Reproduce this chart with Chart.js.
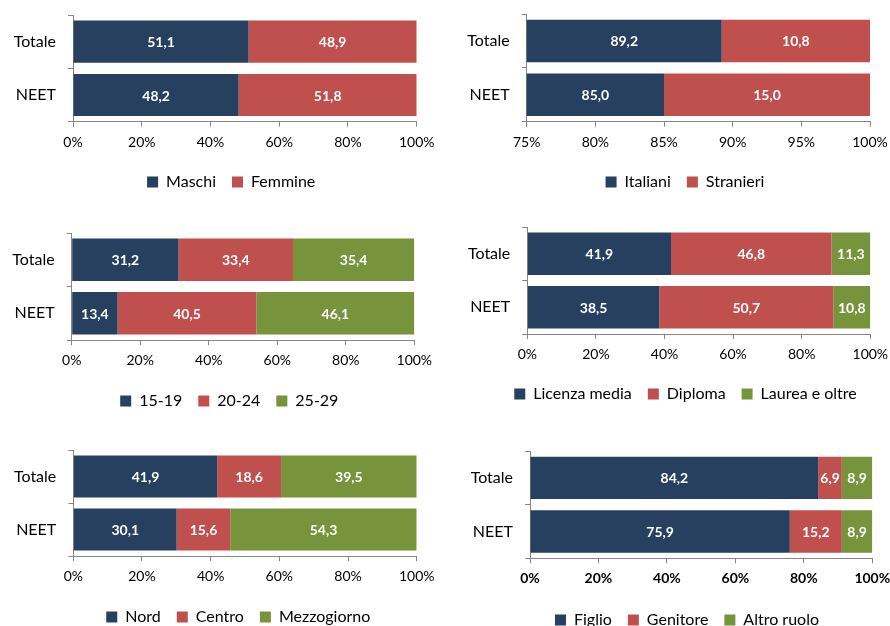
<!DOCTYPE html>
<html>
<head>
<meta charset="utf-8">
<script src="https://cdn.jsdelivr.net/npm/chart.js@4.4.1/dist/chart.umd.min.js"></script>
<style>
html, body { margin: 0; padding: 0; background: #fff; width: 890px; height: 626px; overflow: hidden; }
canvas { position: absolute; }
</style>
</head>
<body>
<canvas id="c1"></canvas>
<canvas id="c2"></canvas>
<canvas id="c3"></canvas>
<canvas id="c4"></canvas>
<canvas id="c5"></canvas>
<canvas id="c6"></canvas>
<script>
// data
const categories = ['Totale', 'NEET'];

const maschi = [51.1, 48.2];
const femmine = [48.9, 51.8];

const italiani = [89.2, 85.0];
const stranieri = [10.8, 15.0];

const eta1519 = [31.2, 13.4];
const eta2024 = [33.4, 40.5];
const eta2529 = [35.4, 46.1];

const licenzaMedia = [41.9, 38.5];
const diploma = [46.8, 50.7];
const laurea = [11.3, 10.8];

const nord = [41.9, 30.1];
const centro = [18.6, 15.6];
const mezzogiorno = [39.5, 54.3];

const figlio = [84.2, 75.9];
const genitore = [6.9, 15.2];
const altroRuolo = [8.9, 8.9];

const colors = ['#27405F', '#C0504D', '#77933C'];
const FONT = 'Lato, "Liberation Sans", sans-serif';

// white value labels in the middle of each segment
const valueLabels = {
  id: 'valueLabels',
  afterDatasetsDraw(chart) {
    const ctx = chart.ctx, area = chart.chartArea;
    ctx.save();
    ctx.fillStyle = '#fff';
    ctx.font = 'bold 14px ' + FONT;
    ctx.textAlign = 'center';
    ctx.textBaseline = 'middle';
    chart.data.datasets.forEach((ds, i) => {
      chart.getDatasetMeta(i).data.forEach((bar, j) => {
        const p = bar.getProps(['x', 'base', 'y'], true);
        const a = Math.max(Math.min(p.x, p.base), area.left);
        const b = Math.min(Math.max(p.x, p.base), area.right);
        ctx.fillText(ds.data[j].toFixed(1).replace('.', ','), (a + b) / 2, p.y + 1);
      });
    });
    ctx.restore();
  }
};

// move the legend so that it is centred where the original one was
const legendShift = {
  id: 'legendShift',
  afterLayout(chart, args, opts) {
    const L = chart.legend;
    if (!L || opts.center == null) return;
    const dx = opts.center - (L.left + L.right) / 2;
    L.left += dx;
    L.right += dx;
  }
};

function panel(id, box, names, series, xMin, xStep, boldTicks) {
  const cv = document.getElementById(id);
  const cw = 460;
  const padT = 30;
  const ct = box.top - padT;
  const ch = box.legendY - ct + 18;
  const padR = box.left + cw - box.right;
  const yw = box.axisL - box.left;
  const xh = ch - 42 - (box.bottom - ct);
  cv.width = cw; cv.height = ch;
  cv.style.left = box.left + 'px';
  cv.style.top = ct + 'px';

  new Chart(cv, {
    type: 'bar',
    data: {
      labels: categories,
      datasets: names.map((n, i) => ({
        label: n,
        data: series[i],
        backgroundColor: colors[i],
        borderColor: colors[i],
        borderWidth: 0,
        categoryPercentage: 1,
        barPercentage: 0.79
      }))
    },
    options: {
      indexAxis: 'y',
      responsive: false,
      animation: false,
      layout: { padding: { left: 0, right: padR, top: padT, bottom: 0 } },
      plugins: {
        legend: {
          position: 'bottom',
          labels: { boxWidth: 11, boxHeight: 11, padding: 16, color: '#000', font: { family: FONT, size: 16 } }
        },
        legendShift: { center: box.legendX - box.left },
        tooltip: { enabled: false }
      },
      scales: {
        x: {
          stacked: true,
          min: xMin,
          max: 100,
          ticks: {
            stepSize: xStep,
            callback: v => v + '%',
            color: '#000',
            padding: 7,
            font: { family: FONT, size: 14, weight: boldTicks ? 'bold' : 'normal' }
          },
          grid: { drawOnChartArea: false, tickLength: 5, color: '#868686' },
          border: { color: '#868686' },
          afterFit: s => { s.height = xh; }
        },
        y: {
          stacked: true,
          ticks: { color: '#000', padding: 12, font: { family: FONT, size: 16 } },
          grid: { drawOnChartArea: false, tickLength: 5, color: '#868686' },
          border: { color: '#868686' },
          afterFit: s => { s.width = yw; }
        }
      }
    },
    plugins: [valueLabels, legendShift]
  });
}

panel('c1', { left: 0, axisL: 73, right: 416.7, top: 15, bottom: 121.7, legendY: 182, legendX: 231.2 },
  ['Maschi', 'Femmine'], [maschi, femmine], 0, 20, false);
panel('c2', { left: 445, axisL: 526.7, right: 870, top: 14, bottom: 121.7, legendY: 182, legendX: 685 },
  ['Italiani', 'Stranieri'], [italiani, stranieri], 75, 5, false);
panel('c3', { left: 0, axisL: 71.7, right: 414.3, top: 232.7, bottom: 340, legendY: 401, legendX: 229.3 },
  ['15-19', '20-24', '25-29'], [eta1519, eta2024, eta2529], 0, 20, false);
panel('c4', { left: 445, axisL: 527.3, right: 870.3, top: 227.3, bottom: 335, legendY: 395, legendX: 685.5 },
  ['Licenza media', 'Diploma', 'Laurea e oltre'], [licenzaMedia, diploma, laurea], 0, 20, false);
panel('c5', { left: 0, axisL: 73.3, right: 416.7, top: 450, bottom: 556.7, legendY: 617.7, legendX: 238.3 },
  ['Nord', 'Centro', 'Mezzogiorno'], [nord, centro, mezzogiorno], 0, 20, false);
panel('c6', { left: 445, axisL: 530, right: 872.3, top: 451, bottom: 558.3, legendY: 620, legendX: 687 },
  ['Figlio', 'Genitore', 'Altro ruolo'], [figlio, genitore, altroRuolo], 0, 20, true);
</script>
</body>
</html>
